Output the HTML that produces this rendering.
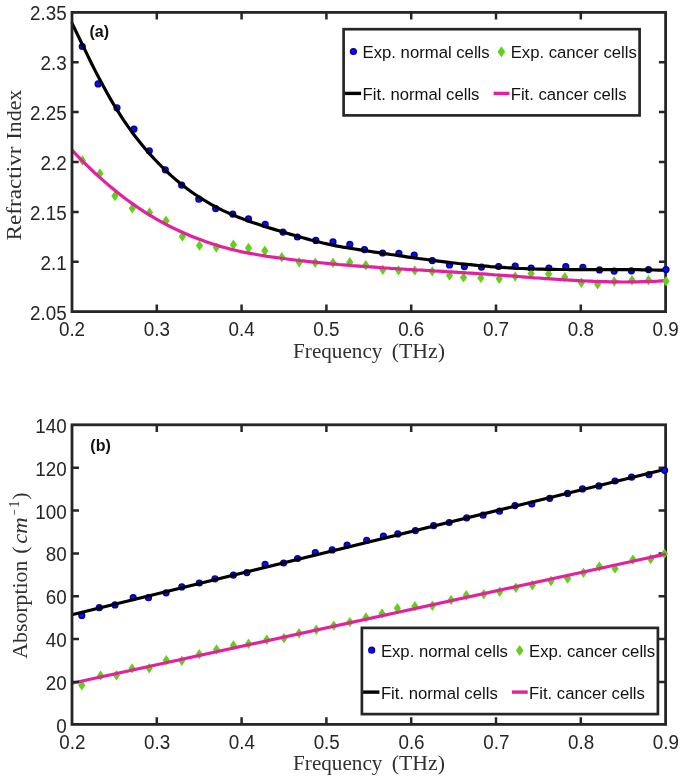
<!DOCTYPE html>
<html><head><meta charset="utf-8"><title>chart</title><style>html,body{margin:0;padding:0;background:#fff}svg{display:block;will-change:transform}</style></head><body>
<svg width="685" height="778" viewBox="0 0 685 778">
<rect width="685" height="778" fill="#fff"/>
<style>text{font-family:"Liberation Sans",sans-serif;fill:#262626} .tk{font-size:19.3px} .lg{font-size:16.7px;fill:#111} .b{font-size:16px;font-weight:bold;fill:#111} .se{font-family:"Liberation Serif",serif;font-size:22px;fill:#303030}</style>
<clipPath id="ca"><rect x="70.5" y="10.9" width="596.6" height="302.2"/></clipPath>
<circle cx="82.3" cy="46.5" r="2.9" fill="#1010dc" stroke="#0000aa" stroke-width="1.4"/>
<circle cx="98.1" cy="83.9" r="2.9" fill="#1010dc" stroke="#0000aa" stroke-width="1.4"/>
<circle cx="117.0" cy="107.8" r="2.9" fill="#1010dc" stroke="#0000aa" stroke-width="1.4"/>
<circle cx="134.0" cy="129.1" r="2.9" fill="#1010dc" stroke="#0000aa" stroke-width="1.4"/>
<circle cx="149.3" cy="150.8" r="2.9" fill="#1010dc" stroke="#0000aa" stroke-width="1.4"/>
<circle cx="165.3" cy="169.8" r="2.9" fill="#1010dc" stroke="#0000aa" stroke-width="1.4"/>
<circle cx="181.7" cy="185.2" r="2.9" fill="#1010dc" stroke="#0000aa" stroke-width="1.4"/>
<circle cx="198.8" cy="199.2" r="2.9" fill="#1010dc" stroke="#0000aa" stroke-width="1.4"/>
<circle cx="215.7" cy="208.6" r="2.9" fill="#1010dc" stroke="#0000aa" stroke-width="1.4"/>
<circle cx="232.8" cy="214.1" r="2.9" fill="#1010dc" stroke="#0000aa" stroke-width="1.4"/>
<circle cx="248.5" cy="218.9" r="2.9" fill="#1010dc" stroke="#0000aa" stroke-width="1.4"/>
<circle cx="265.2" cy="224.4" r="2.9" fill="#1010dc" stroke="#0000aa" stroke-width="1.4"/>
<circle cx="283.0" cy="232.1" r="2.9" fill="#1010dc" stroke="#0000aa" stroke-width="1.4"/>
<circle cx="297.4" cy="237.0" r="2.9" fill="#1010dc" stroke="#0000aa" stroke-width="1.4"/>
<circle cx="315.8" cy="240.4" r="2.9" fill="#1010dc" stroke="#0000aa" stroke-width="1.4"/>
<circle cx="333.0" cy="241.9" r="2.9" fill="#1010dc" stroke="#0000aa" stroke-width="1.4"/>
<circle cx="349.8" cy="244.4" r="2.9" fill="#1010dc" stroke="#0000aa" stroke-width="1.4"/>
<circle cx="364.5" cy="249.6" r="2.9" fill="#1010dc" stroke="#0000aa" stroke-width="1.4"/>
<circle cx="382.6" cy="253.0" r="2.9" fill="#1010dc" stroke="#0000aa" stroke-width="1.4"/>
<circle cx="398.9" cy="253.3" r="2.9" fill="#1010dc" stroke="#0000aa" stroke-width="1.4"/>
<circle cx="414.2" cy="255.1" r="2.9" fill="#1010dc" stroke="#0000aa" stroke-width="1.4"/>
<circle cx="432.3" cy="260.6" r="2.9" fill="#1010dc" stroke="#0000aa" stroke-width="1.4"/>
<circle cx="449.5" cy="264.9" r="2.9" fill="#1010dc" stroke="#0000aa" stroke-width="1.4"/>
<circle cx="464.4" cy="266.6" r="2.9" fill="#1010dc" stroke="#0000aa" stroke-width="1.4"/>
<circle cx="481.5" cy="267.1" r="2.9" fill="#1010dc" stroke="#0000aa" stroke-width="1.4"/>
<circle cx="498.6" cy="266.5" r="2.9" fill="#1010dc" stroke="#0000aa" stroke-width="1.4"/>
<circle cx="515.2" cy="266.2" r="2.9" fill="#1010dc" stroke="#0000aa" stroke-width="1.4"/>
<circle cx="531.1" cy="268.1" r="2.9" fill="#1010dc" stroke="#0000aa" stroke-width="1.4"/>
<circle cx="548.9" cy="268.1" r="2.9" fill="#1010dc" stroke="#0000aa" stroke-width="1.4"/>
<circle cx="565.8" cy="266.5" r="2.9" fill="#1010dc" stroke="#0000aa" stroke-width="1.4"/>
<circle cx="582.9" cy="267.4" r="2.9" fill="#1010dc" stroke="#0000aa" stroke-width="1.4"/>
<circle cx="599.5" cy="269.9" r="2.9" fill="#1010dc" stroke="#0000aa" stroke-width="1.4"/>
<circle cx="614.2" cy="271.1" r="2.9" fill="#1010dc" stroke="#0000aa" stroke-width="1.4"/>
<circle cx="631.4" cy="270.8" r="2.9" fill="#1010dc" stroke="#0000aa" stroke-width="1.4"/>
<circle cx="648.5" cy="269.6" r="2.9" fill="#1010dc" stroke="#0000aa" stroke-width="1.4"/>
<path d="M82.4,155.3 L86.0,160.5 L82.4,165.7 L78.8,160.5Z" fill="#62D018"/>
<path d="M100.0,168.2 L103.6,173.4 L100.0,178.6 L96.4,173.4Z" fill="#62D018"/>
<path d="M114.9,190.8 L118.5,196.0 L114.9,201.2 L111.3,196.0Z" fill="#62D018"/>
<path d="M132.3,203.0 L135.9,208.2 L132.3,213.4 L128.7,208.2Z" fill="#62D018"/>
<path d="M149.5,207.3 L153.1,212.5 L149.5,217.7 L145.9,212.5Z" fill="#62D018"/>
<path d="M166.0,215.6 L169.6,220.8 L166.0,226.0 L162.4,220.8Z" fill="#62D018"/>
<path d="M182.4,231.4 L186.0,236.6 L182.4,241.8 L178.8,236.6Z" fill="#62D018"/>
<path d="M199.5,240.4 L203.1,245.6 L199.5,250.8 L195.9,245.6Z" fill="#62D018"/>
<path d="M216.3,242.4 L219.9,247.6 L216.3,252.8 L212.7,247.6Z" fill="#62D018"/>
<path d="M233.4,239.6 L237.0,244.8 L233.4,250.0 L229.8,244.8Z" fill="#62D018"/>
<path d="M248.5,242.8 L252.1,248.0 L248.5,253.2 L244.9,248.0Z" fill="#62D018"/>
<path d="M264.8,245.5 L268.4,250.7 L264.8,255.9 L261.2,250.7Z" fill="#62D018"/>
<path d="M281.8,252.1 L285.4,257.3 L281.8,262.5 L278.2,257.3Z" fill="#62D018"/>
<path d="M299.2,257.0 L302.8,262.2 L299.2,267.4 L295.6,262.2Z" fill="#62D018"/>
<path d="M315.2,257.6 L318.8,262.8 L315.2,268.0 L311.6,262.8Z" fill="#62D018"/>
<path d="M333.0,257.6 L336.6,262.8 L333.0,268.0 L329.4,262.8Z" fill="#62D018"/>
<path d="M349.8,257.0 L353.4,262.2 L349.8,267.4 L346.2,262.2Z" fill="#62D018"/>
<path d="M365.8,260.0 L369.4,265.2 L365.8,270.4 L362.2,265.2Z" fill="#62D018"/>
<path d="M382.9,264.6 L386.5,269.8 L382.9,275.0 L379.3,269.8Z" fill="#62D018"/>
<path d="M398.6,265.2 L402.2,270.4 L398.6,275.6 L395.0,270.4Z" fill="#62D018"/>
<path d="M414.8,265.2 L418.4,270.4 L414.8,275.6 L411.2,270.4Z" fill="#62D018"/>
<path d="M432.3,266.2 L435.9,271.4 L432.3,276.6 L428.7,271.4Z" fill="#62D018"/>
<path d="M449.5,270.4 L453.1,275.6 L449.5,280.8 L445.9,275.6Z" fill="#62D018"/>
<path d="M463.5,272.2 L467.1,277.4 L463.5,282.6 L459.9,277.4Z" fill="#62D018"/>
<path d="M480.8,272.7 L484.4,277.9 L480.8,283.1 L477.2,277.9Z" fill="#62D018"/>
<path d="M499.2,273.6 L502.8,278.8 L499.2,284.0 L495.6,278.8Z" fill="#62D018"/>
<path d="M515.2,271.4 L518.8,276.6 L515.2,281.8 L511.6,276.6Z" fill="#62D018"/>
<path d="M531.1,268.4 L534.7,273.6 L531.1,278.8 L527.5,273.6Z" fill="#62D018"/>
<path d="M548.6,268.7 L552.2,273.9 L548.6,279.1 L545.0,273.9Z" fill="#62D018"/>
<path d="M564.8,272.1 L568.4,277.3 L564.8,282.5 L561.2,277.3Z" fill="#62D018"/>
<path d="M581.4,277.6 L585.0,282.8 L581.4,288.0 L577.8,282.8Z" fill="#62D018"/>
<path d="M597.6,279.1 L601.2,284.3 L597.6,289.5 L594.0,284.3Z" fill="#62D018"/>
<path d="M614.2,276.3 L617.8,281.5 L614.2,286.7 L610.6,281.5Z" fill="#62D018"/>
<path d="M632.0,275.1 L635.6,280.3 L632.0,285.5 L628.4,280.3Z" fill="#62D018"/>
<path d="M648.5,275.1 L652.1,280.3 L648.5,285.5 L644.9,280.3Z" fill="#62D018"/>
<g clip-path="url(#ca)">
<path d="M71.5,22.1 L75.5,30.4 L79.5,38.7 L83.5,47.0 L87.5,55.1 L91.4,63.2 L95.4,71.1 L99.4,78.8 L103.4,86.3 L107.4,93.6 L111.4,100.6 L115.4,107.3 L119.4,113.7 L123.4,119.8 L127.4,125.6 L131.3,131.2 L135.3,136.5 L139.3,141.6 L143.3,146.5 L147.3,151.2 L151.3,155.7 L155.3,160.0 L159.3,164.2 L163.3,168.2 L167.3,172.0 L171.2,175.6 L175.2,179.1 L179.2,182.5 L183.2,185.7 L187.2,188.8 L191.2,191.7 L195.2,194.5 L199.2,197.1 L203.2,199.6 L207.2,202.0 L211.1,204.3 L215.1,206.5 L219.1,208.6 L223.1,210.6 L227.1,212.4 L231.1,214.2 L235.1,215.9 L239.1,217.5 L243.1,219.1 L247.1,220.5 L251.0,222.0 L255.0,223.3 L259.0,224.6 L263.0,225.9 L267.0,227.2 L271.0,228.4 L275.0,229.6 L279.0,230.8 L283.0,232.0 L287.0,233.2 L290.9,234.4 L294.9,235.5 L298.9,236.7 L302.9,237.8 L306.9,238.9 L310.9,240.0 L314.9,241.0 L318.9,242.0 L322.9,243.0 L326.9,243.9 L330.8,244.8 L334.8,245.6 L338.8,246.3 L342.8,247.1 L346.8,247.7 L350.8,248.4 L354.8,249.0 L358.8,249.6 L362.8,250.3 L366.8,250.9 L370.7,251.5 L374.7,252.1 L378.7,252.7 L382.7,253.3 L386.7,253.9 L390.7,254.5 L394.7,255.0 L398.7,255.6 L402.7,256.2 L406.7,256.8 L410.6,257.3 L414.6,257.9 L418.6,258.5 L422.6,259.0 L426.6,259.5 L430.6,260.1 L434.6,260.6 L438.6,261.1 L442.6,261.6 L446.6,262.1 L450.5,262.6 L454.5,263.0 L458.5,263.5 L462.5,263.9 L466.5,264.3 L470.5,264.7 L474.5,265.1 L478.5,265.5 L482.5,265.9 L486.5,266.2 L490.4,266.6 L494.4,266.9 L498.4,267.2 L502.4,267.4 L506.4,267.7 L510.4,267.9 L514.4,268.2 L518.4,268.4 L522.4,268.5 L526.4,268.7 L530.3,268.8 L534.3,269.0 L538.3,269.1 L542.3,269.2 L546.3,269.3 L550.3,269.3 L554.3,269.4 L558.3,269.5 L562.3,269.5 L566.3,269.5 L570.2,269.6 L574.2,269.6 L578.2,269.6 L582.2,269.6 L586.2,269.6 L590.2,269.6 L594.2,269.6 L598.2,269.6 L602.2,269.6 L606.2,269.6 L610.1,269.6 L614.1,269.6 L618.1,269.6 L622.1,269.6 L626.1,269.6 L630.1,269.7 L634.1,269.7 L638.1,269.7 L642.1,269.8 L646.1,269.9 L650.0,269.9 L654.0,270.0 L658.0,270.1 L662.0,270.2 L666.0,270.3" fill="none" stroke="#000" stroke-width="3.2" stroke-linejoin="round"/>
<path d="M71.8,149.9 L75.8,154.1 L79.8,158.3 L83.8,162.3 L87.8,166.2 L91.7,170.0 L95.7,173.8 L99.7,177.4 L103.7,180.9 L107.7,184.4 L111.7,187.7 L115.7,191.0 L119.7,194.2 L123.6,197.3 L127.6,200.3 L131.6,203.1 L135.6,205.9 L139.6,208.7 L143.6,211.3 L147.6,213.8 L151.6,216.2 L155.5,218.6 L159.5,220.9 L163.5,223.0 L167.5,225.2 L171.5,227.2 L175.5,229.1 L179.5,231.0 L183.5,232.8 L187.4,234.5 L191.4,236.2 L195.4,237.8 L199.4,239.3 L203.4,240.8 L207.4,242.2 L211.4,243.6 L215.4,244.8 L219.4,246.1 L223.3,247.2 L227.3,248.3 L231.3,249.4 L235.3,250.3 L239.3,251.2 L243.3,252.1 L247.3,252.9 L251.3,253.6 L255.2,254.3 L259.2,255.0 L263.2,255.6 L267.2,256.3 L271.2,256.9 L275.2,257.4 L279.2,258.0 L283.2,258.5 L287.1,259.0 L291.1,259.5 L295.1,260.0 L299.1,260.5 L303.1,260.9 L307.1,261.4 L311.1,261.8 L315.1,262.2 L319.1,262.6 L323.0,263.0 L327.0,263.4 L331.0,263.8 L335.0,264.1 L339.0,264.5 L343.0,264.8 L347.0,265.1 L351.0,265.5 L354.9,265.8 L358.9,266.1 L362.9,266.4 L366.9,266.7 L370.9,266.9 L374.9,267.2 L378.9,267.5 L382.9,267.8 L386.8,268.0 L390.8,268.3 L394.8,268.5 L398.8,268.8 L402.8,269.0 L406.8,269.3 L410.8,269.5 L414.8,269.8 L418.7,270.0 L422.7,270.2 L426.7,270.5 L430.7,270.7 L434.7,271.0 L438.7,271.2 L442.7,271.4 L446.7,271.7 L450.7,271.9 L454.6,272.1 L458.6,272.4 L462.6,272.6 L466.6,272.9 L470.6,273.1 L474.6,273.4 L478.6,273.7 L482.6,273.9 L486.5,274.2 L490.5,274.5 L494.5,274.8 L498.5,275.0 L502.5,275.3 L506.5,275.6 L510.5,275.9 L514.5,276.2 L518.4,276.5 L522.4,276.8 L526.4,277.2 L530.4,277.5 L534.4,277.8 L538.4,278.0 L542.4,278.3 L546.4,278.6 L550.4,278.9 L554.3,279.2 L558.3,279.5 L562.3,279.7 L566.3,280.0 L570.3,280.2 L574.3,280.4 L578.3,280.6 L582.3,280.8 L586.2,281.0 L590.2,281.2 L594.2,281.4 L598.2,281.5 L602.2,281.6 L606.2,281.7 L610.2,281.8 L614.2,281.9 L618.1,281.9 L622.1,282.0 L626.1,282.0 L630.1,281.9 L634.1,281.9 L638.1,281.8 L642.1,281.7 L646.1,281.6 L650.0,281.5 L654.0,281.3 L658.0,281.1 L662.0,280.8 L666.0,280.6" fill="none" stroke="#E4209E" stroke-width="3.2" stroke-linejoin="round"/>
</g>
<rect x="72.0" y="12.4" width="593.6" height="299.2" fill="none" stroke="#262626" stroke-width="2.8"/>
<path d="M156.8,311.6 v-7.2 M156.8,12.4 v7.2" stroke="#262626" stroke-width="2.5"/>
<path d="M241.6,311.6 v-7.2 M241.6,12.4 v7.2" stroke="#262626" stroke-width="2.5"/>
<path d="M326.4,311.6 v-7.2 M326.4,12.4 v7.2" stroke="#262626" stroke-width="2.5"/>
<path d="M411.2,311.6 v-7.2 M411.2,12.4 v7.2" stroke="#262626" stroke-width="2.5"/>
<path d="M496.0,311.6 v-7.2 M496.0,12.4 v7.2" stroke="#262626" stroke-width="2.5"/>
<path d="M580.8,311.6 v-7.2 M580.8,12.4 v7.2" stroke="#262626" stroke-width="2.5"/>
<path d="M72.0,62.3 h6.7 M665.6,62.3 h-6.7" stroke="#262626" stroke-width="2.5"/>
<path d="M72.0,112.1 h6.7 M665.6,112.1 h-6.7" stroke="#262626" stroke-width="2.5"/>
<path d="M72.0,162.0 h6.7 M665.6,162.0 h-6.7" stroke="#262626" stroke-width="2.5"/>
<path d="M72.0,211.9 h6.7 M665.6,211.9 h-6.7" stroke="#262626" stroke-width="2.5"/>
<path d="M72.0,261.7 h6.7 M665.6,261.7 h-6.7" stroke="#262626" stroke-width="2.5"/>
<circle cx="666.0" cy="269.6" r="2.9" fill="#1010dc" stroke="#0000aa" stroke-width="1.4"/>
<path d="M666.0,276.0 L669.6,281.2 L666.0,286.4 L662.4,281.2Z" fill="#62D018"/>
<text transform="translate(66.6,20.3) scale(0.975,1)" text-anchor="end" class="tk">2.35</text>
<text transform="translate(66.6,70.2) scale(0.975,1)" text-anchor="end" class="tk">2.3</text>
<text transform="translate(66.6,120.0) scale(0.975,1)" text-anchor="end" class="tk">2.25</text>
<text transform="translate(66.6,169.9) scale(0.975,1)" text-anchor="end" class="tk">2.2</text>
<text transform="translate(66.6,219.8) scale(0.975,1)" text-anchor="end" class="tk">2.15</text>
<text transform="translate(66.6,269.6) scale(0.975,1)" text-anchor="end" class="tk">2.1</text>
<text transform="translate(66.6,319.5) scale(0.975,1)" text-anchor="end" class="tk">2.05</text>
<text transform="translate(72.0,336.2) scale(0.975,1)" text-anchor="middle" class="tk">0.2</text>
<text transform="translate(156.8,336.2) scale(0.975,1)" text-anchor="middle" class="tk">0.3</text>
<text transform="translate(241.6,336.2) scale(0.975,1)" text-anchor="middle" class="tk">0.4</text>
<text transform="translate(326.4,336.2) scale(0.975,1)" text-anchor="middle" class="tk">0.5</text>
<text transform="translate(411.2,336.2) scale(0.975,1)" text-anchor="middle" class="tk">0.6</text>
<text transform="translate(496.0,336.2) scale(0.975,1)" text-anchor="middle" class="tk">0.7</text>
<text transform="translate(580.8,336.2) scale(0.975,1)" text-anchor="middle" class="tk">0.8</text>
<text transform="translate(665.6,336.2) scale(0.975,1)" text-anchor="middle" class="tk">0.9</text>
<text x="89.5" y="37.3" class="b">(a)</text>
<rect x="343.6" y="29.2" width="296" height="86.2" fill="#fff" stroke="#262626" stroke-width="2.7"/>
<circle cx="353.4" cy="51.5" r="2.9" fill="#1010dc" stroke="#0000aa" stroke-width="1.4"/>
<text x="362.6" y="58.0" class="lg">Exp. normal cells</text>
<path d="M501.4,46.2 L505.2,51.7 L501.4,57.2 L497.6,51.7Z" fill="#62D018"/>
<text x="510.7" y="58.0" class="lg">Exp. cancer cells</text>
<path d="M344.8,93.4 h16.3" stroke="#000" stroke-width="3.4"/>
<text x="362.6" y="100.0" class="lg">Fit. normal cells</text>
<path d="M493.6,93.4 h15.8" stroke="#E4209E" stroke-width="3.4"/>
<text x="510.7" y="100.0" class="lg">Fit. cancer cells</text>
<text x="293.1" y="357.6" class="se" textLength="89.3" lengthAdjust="spacingAndGlyphs">Frequency</text>
<text x="391.7" y="357.6" class="se" textLength="53.3" lengthAdjust="spacingAndGlyphs">(THz)</text>
<g transform="translate(21.4,240.6) rotate(-90)">
<text x="0" y="0" class="se" textLength="94.2" lengthAdjust="spacingAndGlyphs">Refractivr</text>
<text x="101.2" y="0" class="se" textLength="49.7" lengthAdjust="spacingAndGlyphs">Index</text>
</g>
<clipPath id="cb"><rect x="70.5" y="423.3" width="596.6" height="302.6"/></clipPath>
<circle cx="81.8" cy="615.4" r="2.9" fill="#1010dc" stroke="#0000aa" stroke-width="1.4"/>
<circle cx="99.3" cy="607.7" r="2.9" fill="#1010dc" stroke="#0000aa" stroke-width="1.4"/>
<circle cx="115.0" cy="604.9" r="2.9" fill="#1010dc" stroke="#0000aa" stroke-width="1.4"/>
<circle cx="133.2" cy="597.7" r="2.9" fill="#1010dc" stroke="#0000aa" stroke-width="1.4"/>
<circle cx="148.5" cy="597.7" r="2.9" fill="#1010dc" stroke="#0000aa" stroke-width="1.4"/>
<circle cx="166.1" cy="592.8" r="2.9" fill="#1010dc" stroke="#0000aa" stroke-width="1.4"/>
<circle cx="181.8" cy="586.9" r="2.9" fill="#1010dc" stroke="#0000aa" stroke-width="1.4"/>
<circle cx="199.3" cy="583.0" r="2.9" fill="#1010dc" stroke="#0000aa" stroke-width="1.4"/>
<circle cx="215.0" cy="578.8" r="2.9" fill="#1010dc" stroke="#0000aa" stroke-width="1.4"/>
<circle cx="233.4" cy="575.1" r="2.9" fill="#1010dc" stroke="#0000aa" stroke-width="1.4"/>
<circle cx="246.9" cy="572.6" r="2.9" fill="#1010dc" stroke="#0000aa" stroke-width="1.4"/>
<circle cx="265.1" cy="564.4" r="2.9" fill="#1010dc" stroke="#0000aa" stroke-width="1.4"/>
<circle cx="283.6" cy="563.0" r="2.9" fill="#1010dc" stroke="#0000aa" stroke-width="1.4"/>
<circle cx="297.6" cy="558.5" r="2.9" fill="#1010dc" stroke="#0000aa" stroke-width="1.4"/>
<circle cx="315.3" cy="552.7" r="2.9" fill="#1010dc" stroke="#0000aa" stroke-width="1.4"/>
<circle cx="332.2" cy="549.9" r="2.9" fill="#1010dc" stroke="#0000aa" stroke-width="1.4"/>
<circle cx="347.1" cy="545.2" r="2.9" fill="#1010dc" stroke="#0000aa" stroke-width="1.4"/>
<circle cx="366.7" cy="540.3" r="2.9" fill="#1010dc" stroke="#0000aa" stroke-width="1.4"/>
<circle cx="383.4" cy="536.2" r="2.9" fill="#1010dc" stroke="#0000aa" stroke-width="1.4"/>
<circle cx="397.8" cy="533.9" r="2.9" fill="#1010dc" stroke="#0000aa" stroke-width="1.4"/>
<circle cx="415.4" cy="530.6" r="2.9" fill="#1010dc" stroke="#0000aa" stroke-width="1.4"/>
<circle cx="433.6" cy="525.7" r="2.9" fill="#1010dc" stroke="#0000aa" stroke-width="1.4"/>
<circle cx="449.2" cy="522.5" r="2.9" fill="#1010dc" stroke="#0000aa" stroke-width="1.4"/>
<circle cx="466.7" cy="517.8" r="2.9" fill="#1010dc" stroke="#0000aa" stroke-width="1.4"/>
<circle cx="483.1" cy="515.2" r="2.9" fill="#1010dc" stroke="#0000aa" stroke-width="1.4"/>
<circle cx="499.5" cy="511.2" r="2.9" fill="#1010dc" stroke="#0000aa" stroke-width="1.4"/>
<circle cx="515.0" cy="505.6" r="2.9" fill="#1010dc" stroke="#0000aa" stroke-width="1.4"/>
<circle cx="531.8" cy="504.0" r="2.9" fill="#1010dc" stroke="#0000aa" stroke-width="1.4"/>
<circle cx="549.7" cy="498.3" r="2.9" fill="#1010dc" stroke="#0000aa" stroke-width="1.4"/>
<circle cx="567.6" cy="493.4" r="2.9" fill="#1010dc" stroke="#0000aa" stroke-width="1.4"/>
<circle cx="582.5" cy="488.9" r="2.9" fill="#1010dc" stroke="#0000aa" stroke-width="1.4"/>
<circle cx="598.9" cy="485.9" r="2.9" fill="#1010dc" stroke="#0000aa" stroke-width="1.4"/>
<circle cx="615.0" cy="481.0" r="2.9" fill="#1010dc" stroke="#0000aa" stroke-width="1.4"/>
<circle cx="631.6" cy="477.2" r="2.9" fill="#1010dc" stroke="#0000aa" stroke-width="1.4"/>
<circle cx="649.0" cy="474.7" r="2.9" fill="#1010dc" stroke="#0000aa" stroke-width="1.4"/>
<path d="M81.8,680.0 L85.4,685.2 L81.8,690.4 L78.2,685.2Z" fill="#62D018"/>
<path d="M100.6,670.4 L104.2,675.6 L100.6,680.8 L97.0,675.6Z" fill="#62D018"/>
<path d="M116.4,670.0 L120.0,675.2 L116.4,680.4 L112.8,675.2Z" fill="#62D018"/>
<path d="M132.1,663.2 L135.7,668.4 L132.1,673.6 L128.5,668.4Z" fill="#62D018"/>
<path d="M149.2,663.0 L152.8,668.2 L149.2,673.4 L145.6,668.2Z" fill="#62D018"/>
<path d="M166.3,655.1 L169.9,660.3 L166.3,665.5 L162.7,660.3Z" fill="#62D018"/>
<path d="M181.8,655.5 L185.4,660.7 L181.8,665.9 L178.2,660.7Z" fill="#62D018"/>
<path d="M199.3,649.0 L202.9,654.2 L199.3,659.4 L195.7,654.2Z" fill="#62D018"/>
<path d="M216.5,644.3 L220.1,649.5 L216.5,654.7 L212.9,649.5Z" fill="#62D018"/>
<path d="M233.4,640.2 L237.0,645.4 L233.4,650.6 L229.8,645.4Z" fill="#62D018"/>
<path d="M248.5,638.6 L252.1,643.8 L248.5,649.0 L244.9,643.8Z" fill="#62D018"/>
<path d="M266.8,634.6 L270.4,639.8 L266.8,645.0 L263.2,639.8Z" fill="#62D018"/>
<path d="M284.0,632.8 L287.6,638.0 L284.0,643.2 L280.4,638.0Z" fill="#62D018"/>
<path d="M299.0,628.1 L302.6,633.3 L299.0,638.5 L295.4,633.3Z" fill="#62D018"/>
<path d="M316.3,624.6 L319.9,629.8 L316.3,635.0 L312.7,629.8Z" fill="#62D018"/>
<path d="M333.8,620.4 L337.4,625.6 L333.8,630.8 L330.2,625.6Z" fill="#62D018"/>
<path d="M349.9,616.9 L353.5,622.1 L349.9,627.3 L346.3,622.1Z" fill="#62D018"/>
<path d="M366.0,612.2 L369.6,617.4 L366.0,622.6 L362.4,617.4Z" fill="#62D018"/>
<path d="M382.0,608.3 L385.6,613.5 L382.0,618.7 L378.4,613.5Z" fill="#62D018"/>
<path d="M397.4,603.0 L401.0,608.2 L397.4,613.4 L393.8,608.2Z" fill="#62D018"/>
<path d="M414.9,601.1 L418.5,606.3 L414.9,611.5 L411.3,606.3Z" fill="#62D018"/>
<path d="M432.4,600.6 L436.0,605.8 L432.4,611.0 L428.8,605.8Z" fill="#62D018"/>
<path d="M451.1,594.8 L454.7,600.0 L451.1,605.2 L447.5,600.0Z" fill="#62D018"/>
<path d="M466.3,590.1 L469.9,595.3 L466.3,600.5 L462.7,595.3Z" fill="#62D018"/>
<path d="M483.8,589.0 L487.4,594.2 L483.8,599.4 L480.2,594.2Z" fill="#62D018"/>
<path d="M499.7,586.6 L503.3,591.8 L499.7,597.0 L496.1,591.8Z" fill="#62D018"/>
<path d="M515.8,582.6 L519.4,587.8 L515.8,593.0 L512.2,587.8Z" fill="#62D018"/>
<path d="M532.3,580.0 L535.9,585.2 L532.3,590.4 L528.7,585.2Z" fill="#62D018"/>
<path d="M551.0,575.8 L554.6,581.0 L551.0,586.2 L547.4,581.0Z" fill="#62D018"/>
<path d="M567.6,573.3 L571.2,578.5 L567.6,583.7 L564.0,578.5Z" fill="#62D018"/>
<path d="M583.5,567.6 L587.1,572.8 L583.5,578.0 L579.9,572.8Z" fill="#62D018"/>
<path d="M599.4,561.4 L603.0,566.6 L599.4,571.8 L595.8,566.6Z" fill="#62D018"/>
<path d="M615.0,563.4 L618.6,568.6 L615.0,573.8 L611.4,568.6Z" fill="#62D018"/>
<path d="M632.9,554.4 L636.5,559.6 L632.9,564.8 L629.3,559.6Z" fill="#62D018"/>
<path d="M650.7,553.9 L654.3,559.1 L650.7,564.3 L647.1,559.1Z" fill="#62D018"/>
<g clip-path="url(#cb)">
<path d="M71.8,614.8 L665.5,469.2" fill="none" stroke="#000" stroke-width="3.2"/>
<path d="M71.8,683.2 L665.9,554.0" fill="none" stroke="#E4209E" stroke-width="3.2"/>
</g>
<rect x="72.0" y="424.8" width="593.6" height="299.6" fill="none" stroke="#262626" stroke-width="2.8"/>
<path d="M156.8,724.4 v-7.2 M156.8,424.8 v7.2" stroke="#262626" stroke-width="2.5"/>
<path d="M241.6,724.4 v-7.2 M241.6,424.8 v7.2" stroke="#262626" stroke-width="2.5"/>
<path d="M326.4,724.4 v-7.2 M326.4,424.8 v7.2" stroke="#262626" stroke-width="2.5"/>
<path d="M411.2,724.4 v-7.2 M411.2,424.8 v7.2" stroke="#262626" stroke-width="2.5"/>
<path d="M496.0,724.4 v-7.2 M496.0,424.8 v7.2" stroke="#262626" stroke-width="2.5"/>
<path d="M580.8,724.4 v-7.2 M580.8,424.8 v7.2" stroke="#262626" stroke-width="2.5"/>
<path d="M72.0,467.8 h7.0 M665.6,467.8 h-7.0" stroke="#262626" stroke-width="2.5"/>
<path d="M72.0,510.6 h7.0 M665.6,510.6 h-7.0" stroke="#262626" stroke-width="2.5"/>
<path d="M72.0,553.5 h7.0 M665.6,553.5 h-7.0" stroke="#262626" stroke-width="2.5"/>
<path d="M72.0,596.3 h7.0 M665.6,596.3 h-7.0" stroke="#262626" stroke-width="2.5"/>
<path d="M72.0,639.1 h7.0 M665.6,639.1 h-7.0" stroke="#262626" stroke-width="2.5"/>
<path d="M72.0,682.0 h7.0 M665.6,682.0 h-7.0" stroke="#262626" stroke-width="2.5"/>
<path d="M664.4,548.5 L668.0,553.7 L664.4,558.9 L660.8,553.7Z" fill="#62D018"/>
<path d="M650,557.46 L665.9,554.0" fill="none" stroke="#E4209E" stroke-width="3.2"/>
<circle cx="664.6" cy="470.3" r="2.9" fill="#1010dc" stroke="#0000aa" stroke-width="1.4"/>
<text transform="translate(66.6,432.8) scale(0.975,1)" text-anchor="end" class="tk">140</text>
<text transform="translate(66.6,475.6) scale(0.975,1)" text-anchor="end" class="tk">120</text>
<text transform="translate(66.6,518.5) scale(0.975,1)" text-anchor="end" class="tk">100</text>
<text transform="translate(66.6,561.4) scale(0.975,1)" text-anchor="end" class="tk">80</text>
<text transform="translate(66.6,604.2) scale(0.975,1)" text-anchor="end" class="tk">60</text>
<text transform="translate(66.6,647.0) scale(0.975,1)" text-anchor="end" class="tk">40</text>
<text transform="translate(66.6,689.9) scale(0.975,1)" text-anchor="end" class="tk">20</text>
<text transform="translate(66.6,732.7) scale(0.975,1)" text-anchor="end" class="tk">0</text>
<text transform="translate(72.3,748.6) scale(0.975,1)" text-anchor="middle" class="tk">0.2</text>
<text transform="translate(157.1,748.6) scale(0.975,1)" text-anchor="middle" class="tk">0.3</text>
<text transform="translate(241.9,748.6) scale(0.975,1)" text-anchor="middle" class="tk">0.4</text>
<text transform="translate(326.7,748.6) scale(0.975,1)" text-anchor="middle" class="tk">0.5</text>
<text transform="translate(411.5,748.6) scale(0.975,1)" text-anchor="middle" class="tk">0.6</text>
<text transform="translate(496.3,748.6) scale(0.975,1)" text-anchor="middle" class="tk">0.7</text>
<text transform="translate(581.1,748.6) scale(0.975,1)" text-anchor="middle" class="tk">0.8</text>
<text transform="translate(665.9,748.6) scale(0.975,1)" text-anchor="middle" class="tk">0.9</text>
<text x="90.3" y="450.5" class="b">(b)</text>
<rect x="361.9" y="627.9" width="296" height="86.2" fill="#fff" stroke="#262626" stroke-width="2.7"/>
<circle cx="371.7" cy="650.2" r="2.9" fill="#1010dc" stroke="#0000aa" stroke-width="1.4"/>
<text x="380.9" y="656.7" class="lg">Exp. normal cells</text>
<path d="M519.7,644.9 L523.5,650.4 L519.7,655.9 L515.9,650.4Z" fill="#62D018"/>
<text x="529.0" y="656.7" class="lg">Exp. cancer cells</text>
<path d="M363.1,692.1 h16.3" stroke="#000" stroke-width="3.4"/>
<text x="380.9" y="698.7" class="lg">Fit. normal cells</text>
<path d="M511.9,692.1 h15.8" stroke="#E4209E" stroke-width="3.4"/>
<text x="529.0" y="698.7" class="lg">Fit. cancer cells</text>
<text x="293.1" y="770.3" class="se" textLength="89.3" lengthAdjust="spacingAndGlyphs">Frequency</text>
<text x="391.7" y="770.3" class="se" textLength="53.3" lengthAdjust="spacingAndGlyphs">(THz)</text>
<g transform="translate(26.9,658.7) rotate(-90)">
<text x="0" y="0" class="se" textLength="98" lengthAdjust="spacingAndGlyphs">Absorption</text>
<text x="108.5" y="0" class="se" text-anchor="middle">(</text>
<text x="115" y="0" class="se" font-style="italic" textLength="26.4" lengthAdjust="spacingAndGlyphs">cm</text>
<text x="143.2" y="-8.2" class="se" style="font-size:14.5px" textLength="6.2" lengthAdjust="spacingAndGlyphs">−</text>
<text x="150.9" y="-8.2" class="se" style="font-size:14.5px">1</text>
<text x="162.6" y="0" class="se" text-anchor="middle">)</text>
</g>
</svg>
</body></html>
